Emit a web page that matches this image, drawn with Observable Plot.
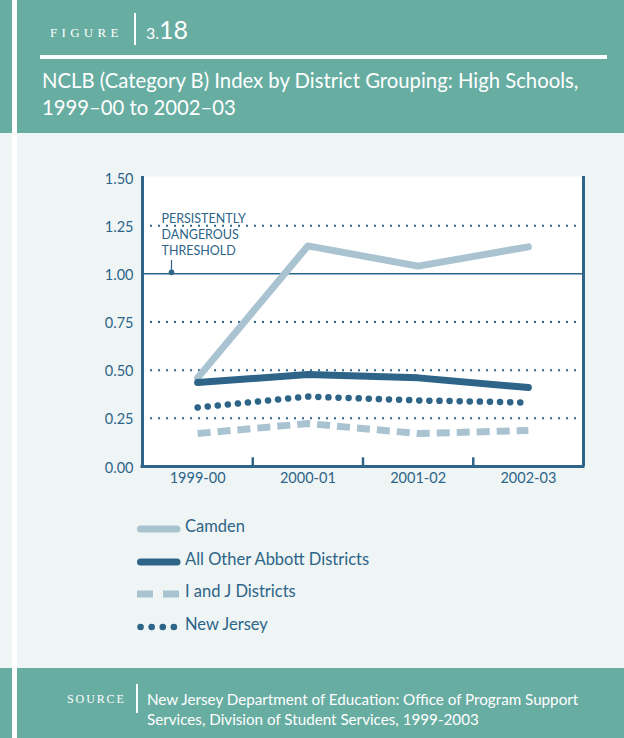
<!DOCTYPE html>
<html>
<head>
<meta charset="utf-8">
<script src="https://cdn.jsdelivr.net/npm/d3@7"></script>
<script src="https://cdn.jsdelivr.net/npm/@observablehq/plot@0.6"></script>
<style>
  html, body { margin: 0; padding: 0; }
  body { width: 624px; height: 738px; position: relative; overflow: hidden; background: #eff5f5; font-family: Lato, "Open Sans", sans-serif; }
  .abs { position: absolute; }
  .teal { background: #67ada2; }
  .gap { background: #ffffff; }
  .smallcaps { font-family: "Liberation Serif", "DejaVu Serif", serif; color: #ffffff; white-space: nowrap; }
  #legend .row { position: absolute; left: 0; height: 20px; }
  #legend .lbl { position: absolute; left: 48px; top: 0; font-size: 16.5px; color: #2d6488; white-space: nowrap; line-height: 20px; }
</style>
</head>
<body>
<div class="abs teal" style="left:0;top:0;width:12px;height:133px"></div>
<div class="abs teal" style="left:0;top:668px;width:12px;height:70px"></div>
<div class="abs gap" style="left:12px;top:0;width:5px;height:738px"></div>
<div class="abs teal" style="left:17px;top:0;width:607px;height:133px"></div>
<div class="abs teal" style="left:17px;top:668px;width:607px;height:70px"></div>

<div class="abs smallcaps" style="left:50px;top:25px;font-size:13px;letter-spacing:4.3px">FIGURE</div>
<div class="abs" style="left:134px;top:13px;width:1.5px;height:32px;background:#fff"></div>
<div class="abs" style="left:146px;top:14px;color:#fff;font-size:25px;line-height:30px;white-space:nowrap"><span style="font-size:16px">3.</span>18</div>
<div class="abs" style="left:40px;top:55px;width:567px;height:3.5px;background:#fff"></div>
<div id="title" class="abs" style="left:42px;top:67px;color:#fff;font-size:20.3px;line-height:27px;white-space:nowrap">NCLB (Category B) Index by District Grouping: High Schools,<br>1999–00 to 2002–03</div>

<div id="chart" class="abs" style="left:17px;top:133px"></div>
<div id="legend" class="abs" style="left:137px;top:516px;width:320px;height:130px"></div>

<div class="abs smallcaps" style="left:67px;top:692px;font-size:12px;letter-spacing:1.9px">SOURCE</div>
<div class="abs" style="left:136px;top:684px;width:1.5px;height:29px;background:#fff"></div>
<div class="abs" style="left:147px;top:689px;color:#fff;font-size:15.2px;line-height:20px;white-space:nowrap">New Jersey Department of Education: Office of Program Support<br>Services, Division of Student Services, 1999-2003</div>

<script>
// ---- data ----
const categories = ["1999-00", "2000-01", "2001-02", "2002-03"];
const camden     = [0.46, 1.145, 1.04, 1.14];
const abbott     = [0.436, 0.477, 0.46, 0.41];
const iandj      = [0.171, 0.223, 0.171, 0.187];
const newJersey  = [0.306, 0.363, 0.343, 0.332];
const seriesNames = ["Camden", "All Other Abbott Districts", "I and J Districts", "New Jersey"];
const yTicks = [0, 0.25, 0.5, 0.75, 1.0, 1.25, 1.5];
const gridValues = [0.25, 0.5, 0.75, 1.25];
const thresholdValue = 1.0;
const thresholdLabel = "PERSISTENTLY\nDANGEROUS\nTHRESHOLD";

// ---- styles ----
const dark = "#2d6488";
const light = "#a9c3d1";
const seriesValues = [camden, abbott, iandj, newJersey];
const seriesStyles = [
  {stroke: light, strokeWidth: 7, strokeLinecap: "round", strokeLinejoin: "round"},
  {stroke: dark, strokeWidth: 7, strokeLinecap: "round", strokeLinejoin: "round"},
  {stroke: light, strokeWidth: 7, strokeDasharray: "13,7", strokeLinecap: "butt"},
  {stroke: dark, strokeWidth: 6.5, strokeDasharray: "0.1,10", strokeLinecap: "round"}
];
const legendDash = [null, null, "16,10", "0.1,11"];

const xDomain = [-0.5, categories.length - 0.5];
const boundaries = d3.range(1, categories.length).map(i => i - 0.5);
const rows = seriesValues.map(vals => categories.map((c, i) => ({i, c, v: vals[i]})));
const fmt = d3.format(".2f");

const chart = Plot.plot({
  width: 607,
  height: 367,
  marginLeft: 125,
  marginRight: 41,
  marginTop: 44,
  marginBottom: 34,
  style: {background: "transparent", fontFamily: "Lato, sans-serif", color: dark, overflow: "visible"},
  x: {type: "linear", domain: xDomain, axis: null},
  y: {domain: [0, 1.5], axis: null},
  marks: [
    Plot.frame({fill: "white", stroke: null, insetTop: -1}),
    Plot.ruleY(gridValues, {stroke: dark, strokeWidth: 2, strokeDasharray: "2,6"}),
    Plot.ruleY([thresholdValue], {stroke: dark, strokeWidth: 1.5}),
    Plot.text([thresholdValue], {y: d => d, frameAnchor: "left", dx: 19, dy: -19, text: () => thresholdLabel,
      textAnchor: "start", lineAnchor: "bottom", fontSize: 12.5, fill: dark, lineHeight: 1.28}),
    Plot.ruleX([thresholdValue], {x: () => xDomain[0], y1: d => d, y2: d => d + 0.07, dx: 29, stroke: dark, strokeWidth: 1.2}),
    Plot.dot([thresholdValue], {x: () => xDomain[0], y: d => d, dx: 29, dy: -1.5, r: 2.8, fill: dark}),
    ...rows.map((data, k) => Plot.line(data, {x: "i", y: "v", ...seriesStyles[k]})),
    Plot.ruleX(xDomain, {stroke: dark, strokeWidth: 3, insetTop: -1}),
    Plot.ruleY([0], {stroke: dark, strokeWidth: 3, insetLeft: -1.5, insetRight: -1.5}),
    Plot.ruleX(boundaries, {y1: 0, y2: 0.045, stroke: dark, strokeWidth: 2.5}),
    Plot.text(yTicks, {y: d => d, frameAnchor: "left", dx: -9, dy: 1.5, textAnchor: "end", text: d => fmt(d), fontSize: 14.5, fill: dark}),
    Plot.text(categories, {x: (d, i) => i, frameAnchor: "bottom", dy: 16, text: d => d, fontSize: 14.5, fill: dark})
  ]
});
document.getElementById("chart").appendChild(chart);

// ---- legend ----
const legend = document.getElementById("legend");
seriesNames.forEach((name, k) => {
  const row = document.createElement("div");
  row.className = "row";
  row.style.top = (k * 32.5) + "px";
  const st = seriesStyles[k];
  const dash = legendDash[k] ? `stroke-dasharray="${legendDash[k]}"` : "";
  const cap = k === 2 ? "butt" : "round";
  const x1 = k === 2 ? 0 : 3.5, x2 = k === 2 ? 43 : 40;
  row.innerHTML = `<svg width="46" height="20" style="position:absolute;left:0;top:1px"><line x1="${x1}" x2="${x2}" y1="12" y2="12" stroke="${st.stroke}" stroke-width="${st.strokeWidth}" stroke-linecap="${cap}" ${dash}/></svg><span class="lbl">${name}</span>`;
  legend.appendChild(row);
});
</script>
</body>
</html>
